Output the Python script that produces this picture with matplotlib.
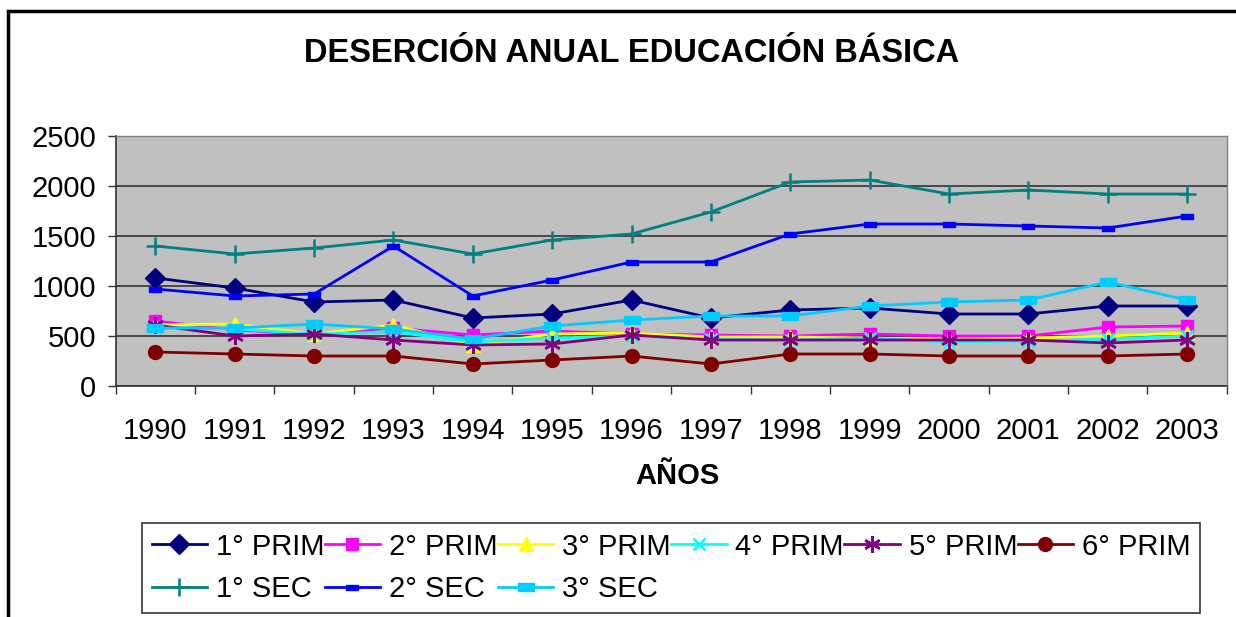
import matplotlib
matplotlib.use("Agg")
import matplotlib.pyplot as plt
from matplotlib.patches import Rectangle
from matplotlib.path import Path

plt.rcParams['font.family'] = ['Liberation Sans', 'DejaVu Sans']

years = ['1990', '1991', '1992', '1993', '1994', '1995', '1996',
         '1997', '1998', '1999', '2000', '2001', '2002', '2003']
prim1 = [1080, 980, 840, 860, 680, 720, 860, 680, 760, 780, 720, 720, 800, 800]
prim2 = [650, 560, 520, 580, 510, 550, 520, 510, 500, 520, 500, 500, 590, 600]
prim3 = [610, 620, 520, 610, 410, 520, 530, 490, 490, 480, 460, 480, 500, 530]
prim4 = [590, 570, 520, 540, 440, 480, 500, 470, 460, 480, 440, 450, 470, 500]
prim5 = [610, 500, 520, 460, 410, 420, 510, 460, 460, 460, 460, 460, 430, 460]
prim6 = [340, 320, 300, 300, 220, 260, 300, 220, 320, 320, 300, 300, 300, 320]
sec1 = [1400, 1320, 1380, 1460, 1320, 1460, 1520, 1740, 2040, 2060, 1920, 1960, 1920, 1920]
sec2 = [970, 900, 920, 1400, 900, 1060, 1240, 1240, 1520, 1620, 1620, 1600, 1580, 1700]
sec3 = [580, 580, 620, 570, 470, 600, 660, 700, 700, 800, 840, 860, 1040, 860]
series_labels = ['1° PRIM', '2° PRIM', '3° PRIM', '4° PRIM', '5° PRIM', '6° PRIM',
                 '1° SEC', '2° SEC', '3° SEC']
yticks = [0, 500, 1000, 1500, 2000, 2500]

W, H = 1236, 617
fig = plt.figure(figsize=(W / 100, H / 100), dpi=100)
fig.patch.set_facecolor('white')

ax = fig.add_axes([115.7 / W, 1 - 386 / H, (1226.7 - 115.7) / W, (386 - 136) / H])
ax.set_facecolor('#C0C0C0')

rect_small = Path([(-1, -0.45), (1, -0.45), (1, 0.45), (-1, 0.45), (-1, -0.45)],
                  [Path.MOVETO, Path.LINETO, Path.LINETO, Path.LINETO, Path.CLOSEPOLY])

styles = [
    dict(color='#000080', marker='D', ms=10),
    dict(color='#FF00FF', marker='s', ms=9),
    dict(color='#FFFF00', marker='^', ms=10),
    dict(color='#00FFFF', marker='x', ms=9, mew=1.8),
    dict(color='#800080', marker=(6, 2, 0), ms=12, mew=1.8),
    dict(color='#800000', marker='o', ms=10),
    dict(color='#008080', marker='+', ms=13, mew=1.8),
    dict(color='#0000FF', marker=rect_small, ms=8),
    dict(color='#00CCFF', marker=rect_small, ms=12),
]
data = [prim1, prim2, prim3, prim4, prim5, prim6, sec1, sec2, sec3]
x = list(range(len(years)))
handles = []
for vals, lab, st in zip(data, series_labels, styles):
    h, = ax.plot(x, vals, label=lab, lw=2, color=st['color'], marker=st['marker'],
                 markersize=st['ms'], markeredgewidth=st.get('mew', 1),
                 markerfacecolor=st['color'], markeredgecolor=st['color'], zorder=3)
    handles.append(h)

ax.set_xlim(-0.5, len(years) - 0.5)
ax.set_ylim(0, 2500)
ax.set_yticks(yticks)
ax.set_yticklabels([str(v) for v in yticks])
ax.yaxis.grid(True, color='#333333', lw=1.2)
ax.set_axisbelow(True)

ax.set_xticks([i - 0.5 for i in range(len(years) + 1)])
ax.set_xticklabels([])
ax.set_xticks(x, minor=True)
ax.set_xticklabels(years, minor=True)
ax.tick_params(axis='x', which='major', direction='out', length=6, width=1, color='#333333')
ax.tick_params(axis='x', which='minor', length=0, pad=22, labelsize=21)
ax.tick_params(axis='y', direction='out', length=6, width=1, color='#333333',
               labelsize=21, pad=8)
for s in ['left', 'bottom']:
    ax.spines[s].set_color('#333333')
    ax.spines[s].set_linewidth(1.2)
for s in ['top', 'right']:
    ax.spines[s].set_color('#808080')
    ax.spines[s].set_linewidth(1)

fig.text(631.5 / W, 1 - 53 / H, 'DESERCIÓN ANUAL EDUCACIÓN BÁSICA', ha='center', va='center',
         fontsize=23.5, fontweight='bold')
fig.text(677 / W, 1 - 476 / H, 'AÑOS', ha='center', va='center',
         fontsize=21, fontweight='bold')

order = [0, 6, 1, 7, 2, 8, 3, 4, 5]
leg = fig.legend([handles[i] for i in order], [series_labels[i] for i in order],
                 ncol=6, loc='upper left',
                 bbox_to_anchor=(142 / W, 1 - 614 / H, (1200 - 142) / W, (614 - 523) / H),
                 mode='expand', borderaxespad=0, fontsize=21, frameon=True,
                 fancybox=False, edgecolor='black', handlelength=1.9,
                 handletextpad=0.3, labelspacing=0.5, borderpad=0.33,
                 columnspacing=0.2)
leg.get_frame().set_linewidth(1.2)

fig.patches.append(Rectangle((8 / W, -0.1), 1.2, 1.1 - 11 / H, transform=fig.transFigure,
                             fill=False, edgecolor='black', lw=2.5))

fig.savefig('out.png', dpi=100)
